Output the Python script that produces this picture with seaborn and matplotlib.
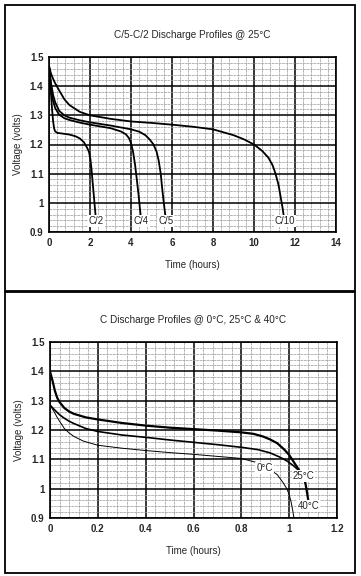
import numpy as np
import pandas as pd
import matplotlib
matplotlib.use('Agg')
import matplotlib.pyplot as plt
from matplotlib.patches import Rectangle
from matplotlib.ticker import MultipleLocator
import seaborn as sns

# top chart: discharge at 25C, various rates (time in hours, voltage in volts)
c10_t = [0, 0.05, 0.1, 0.2, 0.3, 0.5, 0.75, 1, 1.5, 2, 3, 4, 5, 6, 7, 8, 9, 9.5, 10,
         10.4, 10.7, 10.9, 11.05, 11.2, 11.3, 11.4, 11.48]
c10_v = [1.47, 1.455, 1.443, 1.425, 1.41, 1.385, 1.355, 1.335, 1.312, 1.3, 1.288, 1.279,
         1.274, 1.268, 1.261, 1.252, 1.232, 1.218, 1.2, 1.178, 1.155, 1.13, 1.1, 1.06,
         1.02, 0.98, 0.94]
c5_t = [0, 0.05, 0.1, 0.2, 0.3, 0.5, 0.75, 1, 1.5, 2, 3, 4, 4.4, 4.7, 4.9, 5.1, 5.25,
        5.35, 5.45, 5.52, 5.6, 5.67, 5.7]
c5_v = [1.47, 1.44, 1.41, 1.37, 1.345, 1.315, 1.3, 1.292, 1.283, 1.276, 1.265, 1.252,
        1.244, 1.232, 1.218, 1.2, 1.175, 1.145, 1.1, 1.05, 1.0, 0.96, 0.94]
c4_t = [0, 0.05, 0.1, 0.2, 0.3, 0.5, 0.75, 1, 1.5, 2, 3, 3.5, 3.75, 3.9, 4.0, 4.1, 4.2,
        4.3, 4.38, 4.45, 4.5]
c4_v = [1.47, 1.43, 1.395, 1.35, 1.325, 1.302, 1.29, 1.284, 1.275, 1.268, 1.256, 1.245,
        1.235, 1.222, 1.205, 1.175, 1.13, 1.07, 1.02, 0.97, 0.94]
c2_t = [0, 0.05, 0.1, 0.15, 0.2, 0.25, 0.3, 0.4, 0.6, 1, 1.3, 1.5, 1.7, 1.85, 1.95,
        2.02, 2.08, 2.13, 2.18, 2.23, 2.28, 2.3]
c2_v = [1.47, 1.42, 1.37, 1.32, 1.28, 1.255, 1.245, 1.24, 1.238, 1.234, 1.228, 1.221,
        1.208, 1.19, 1.175, 1.15, 1.11, 1.07, 1.03, 0.99, 0.95, 0.94]
rate_labels = ['C/2', 'C/4', 'C/5', 'C/10']
rate_label_t = [2.3, 4.5, 5.7, 11.5]

# bottom chart: C rate at three temperatures
t40_t = [0, 0.01, 0.02, 0.03, 0.04, 0.06, 0.08, 0.1, 0.15, 0.2, 0.3, 0.4, 0.5, 0.6, 0.7,
         0.8, 0.85, 0.89, 0.92, 0.95, 0.98, 1.0, 1.02, 1.04, 1.055, 1.065, 1.072, 1.078, 1.08]
t40_v = [1.40, 1.37, 1.335, 1.31, 1.295, 1.275, 1.263, 1.255, 1.243, 1.236, 1.224, 1.215,
         1.208, 1.203, 1.198, 1.192, 1.187, 1.178, 1.168, 1.155, 1.133, 1.115, 1.09, 1.065,
         1.045, 1.03, 1.0, 0.97, 0.96]
t25_t = [0, 0.02, 0.04, 0.06, 0.08, 0.1, 0.15, 0.2, 0.3, 0.4, 0.5, 0.6, 0.7, 0.8, 0.87,
         0.92, 0.96, 0.99, 1.02, 1.04, 1.05]
t25_v = [1.285, 1.268, 1.252, 1.24, 1.23, 1.222, 1.205, 1.195, 1.183, 1.175, 1.166, 1.158,
         1.15, 1.141, 1.133, 1.122, 1.108, 1.095, 1.077, 1.062, 1.05]
t0_t = [0, 0.01, 0.02, 0.03, 0.04, 0.06, 0.08, 0.1, 0.14, 0.2, 0.3, 0.4, 0.5, 0.6, 0.7,
        0.8, 0.86, 0.9, 0.95, 0.975, 0.99, 1.0, 1.008, 1.015, 1.02]
t0_v = [1.285, 1.272, 1.258, 1.243, 1.23, 1.205, 1.19, 1.178, 1.162, 1.148, 1.138, 1.13,
        1.123, 1.117, 1.11, 1.103, 1.09, 1.075, 1.048, 1.02, 1.0, 0.98, 0.955, 0.925, 0.9]
temp_labels = ['0°C', '25°C', '40°C']
temp_label_t = [0.897, 1.059, 1.081]
temp_label_v = [1.071, 1.042, 0.942]

sns.set_style('white')
plt.rcParams['font.family'] = ['Liberation Sans', 'DejaVu Sans']

fig = plt.figure(figsize=(3.61, 5.76), dpi=100)
W, H = 361, 576


def setup(ax, xmax, xmajor, xminor):
    ax.set_ylim(0.9, 1.5)
    ax.set_xlim(0, xmax)
    ax.xaxis.set_major_locator(MultipleLocator(xmajor))
    ax.xaxis.set_minor_locator(MultipleLocator(xminor))
    ax.yaxis.set_major_locator(MultipleLocator(0.1))
    ax.yaxis.set_minor_locator(MultipleLocator(0.02))
    ax.grid(which='major', color='black', lw=1.1)
    ax.grid(which='minor', color='0.6', lw=0.5, ls=(0, (4, 1)))
    ax.set_axisbelow(True)
    for s in ax.spines.values():
        s.set_color('black')
        s.set_linewidth(1.2)
    ax.tick_params(which='both', length=0, labelsize=7, pad=4)
    ax.set_yticks([0.9, 1.0, 1.1, 1.2, 1.3, 1.4, 1.5])
    ax.set_yticklabels(['0.9', '1', '1.1', '1.2', '1.3', '1.4', '1.5'])
    ax.xaxis.set_major_formatter(lambda x, p: f'{x:g}')
    for lab in ax.get_xticklabels() + ax.get_yticklabels():
        lab.set_fontweight('bold')
    ax.set_ylabel('Voltage (volts)', fontsize=7, labelpad=5)
    ax.set_xlabel('Time (hours)', fontsize=7, labelpad=9)


box = dict(facecolor='white', edgecolor='none', pad=0.6)

# top chart
ax1 = fig.add_axes([49 / W, 1 - 232 / H, 287 / W, 175 / H])
for t, v in [(c10_t, c10_v), (c5_t, c5_v), (c4_t, c4_v), (c2_t, c2_v)]:
    sns.lineplot(x=t, y=v, ax=ax1, color='black', lw=1.3, sort=False)
setup(ax1, 14, 2, 0.4)
ax1.set_title('C/5-C/2 Discharge Profiles @ 25°C', fontsize=7.2, pad=14)
for lab, t in zip(rate_labels, rate_label_t):
    ax1.text(t, 0.937, lab, fontsize=7, ha='center', va='center', bbox=box, zorder=5)

# bottom chart
ax2 = fig.add_axes([50 / W, 1 - 518 / H, 287 / W, 176 / H])
sns.lineplot(x=t40_t, y=t40_v, ax=ax2, color='black', lw=1.6, sort=False)
sns.lineplot(x=t25_t, y=t25_v, ax=ax2, color='black', lw=1.2, sort=False)
sns.lineplot(x=t0_t, y=t0_v, ax=ax2, color='black', lw=0.7, sort=False)
setup(ax2, 1.2, 0.2, 0.04)
ax2.set_title('C Discharge Profiles @ 0°C, 25°C & 40°C', fontsize=7.2, pad=14)
for lab, t, v in zip(temp_labels, temp_label_t, temp_label_v):
    ax2.text(t, v, lab, fontsize=7, ha='center', va='center', bbox=box, zorder=5)

# outer frames
fig.add_artist(Rectangle((5 / W, 1 - 291 / H), 350 / W, 286 / H, transform=fig.transFigure,
                         fill=False, lw=1.3, color='black'))
fig.add_artist(Rectangle((5 / W, 1 - 573 / H), 350 / W, 281 / H, transform=fig.transFigure,
                         fill=False, lw=1.3, color='black'))

fig.savefig('out.png', dpi=100)
